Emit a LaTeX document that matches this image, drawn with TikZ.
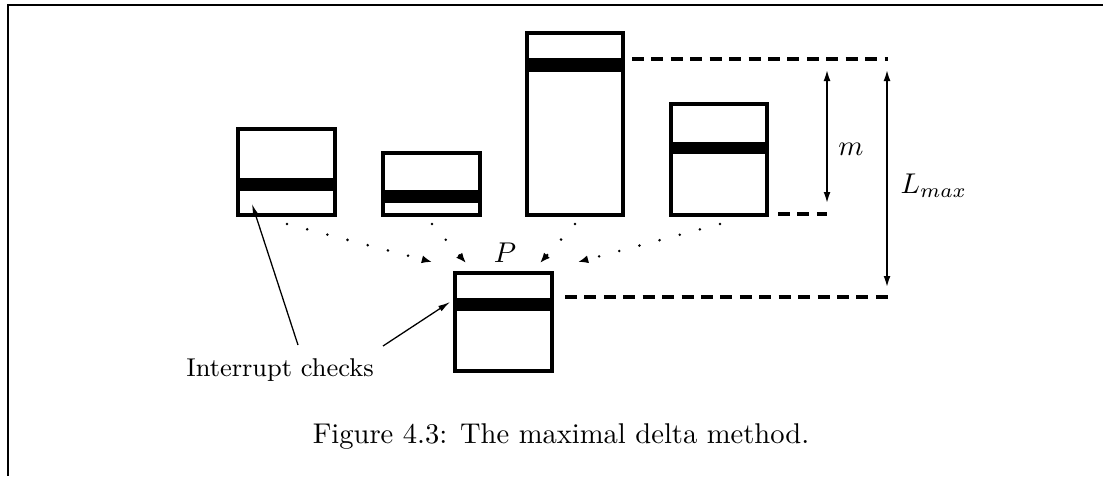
\documentclass[tikz,border=0pt]{standalone}
\usepackage{amsmath}
\usepackage{tikz}
\usetikzlibrary{arrows.meta,positioning}
\tikzset{
  boxline/.style={line width=1.15pt,line join=miter},
  dashline/.style={line width=1.1pt,dash pattern=on 4.2pt off 2.6pt},
  dimarrow/.style={line width=0.8pt,{Latex[length=4.2pt,width=2.4pt]}-{Latex[length=4.2pt,width=2.4pt]}},
  dotarrow/.style={line width=1pt,line cap=round,dash pattern=on 0pt off 7.3pt,-{Latex[length=3.6pt,width=2.8pt]}},
  notearrow/.style={line width=0.45pt,-{Latex[length=4.2pt,width=2.2pt]}}
}

\begin{document}
\begin{tikzpicture}[x=0.35pt,y=-0.35pt]
  \useasboundingbox (0,0) rectangle (1103,476);
  \draw[line width=1pt] (1103,5) -- (8,5) -- (8,476);
  % the four tasks and P
  \fill (238,178) rectangle (335,191); \draw[boxline] (238,129) rectangle (335,215);
  \fill (383,190) rectangle (480,203); \draw[boxline] (383,153) rectangle (480,215);
  \fill (527,58) rectangle (623,72);   \draw[boxline] (527,33) rectangle (623,215);
  \fill (671,142) rectangle (767,154); \draw[boxline] (671,104) rectangle (767,215);
  \fill (455,298) rectangle (552,311); \draw[boxline] (455,273) rectangle (552,371);
  % levels
  \coordinate (T3) at (632,59); \coordinate (T4) at (778,214); \coordinate (TP) at (565,297);
  \coordinate (E3) at (888,59); \coordinate (E4) at (827,214); \coordinate (EP) at (888,297);
  \draw[dashline] (T3) -- (E3); \draw[dashline] (T4) -- (E4); \draw[dashline] (TP) -- (EP);
  \coordinate (m1) at (827,69); \coordinate (m2) at (827,204);
  \coordinate (L1) at (887,69); \coordinate (L2) at (887,288);
  \draw[dimarrow] (m1) -- (m2); \draw[dimarrow] (L1) -- (L2);
  \node[anchor=base] (mlab) at (851,155) {$m$};
  \node[anchor=base west,inner sep=0pt] (Llab) at (900,193) {$L_{max}$};
  % merging into P
  \coordinate (b1) at (287,224); \coordinate (b2) at (432,224); \coordinate (b3) at (575,224); \coordinate (b4) at (720,224);
  \coordinate (p1) at (432,262); \coordinate (p2) at (466,263); \coordinate (p3) at (540,263); \coordinate (p4) at (578,262);
  \draw[dotarrow] (b1) -- (p1); \draw[dotarrow] (b2) -- (p2);
  \draw[dotarrow] (b3) -- (p3); \draw[dotarrow] (b4) -- (p4);
  \node[anchor=base] (Plab) at (505,262) {$P$};
  % interrupt checks
  \node[anchor=base,font=\fontsize{9}{11}\selectfont] (ic) at (280,376) {Interrupt checks};
  \coordinate (ic1) at (298,345); \coordinate (ic2) at (383,346);
  \coordinate (c1) at (252,204); \coordinate (c2) at (450,302);
  \draw[notearrow] (ic1) -- (c1); \draw[notearrow] (ic2) -- (c2);
  \node[anchor=base] (cap) at (561,443) {Figure 4.3: The maximal delta method.};
\end{tikzpicture}
\end{document}
